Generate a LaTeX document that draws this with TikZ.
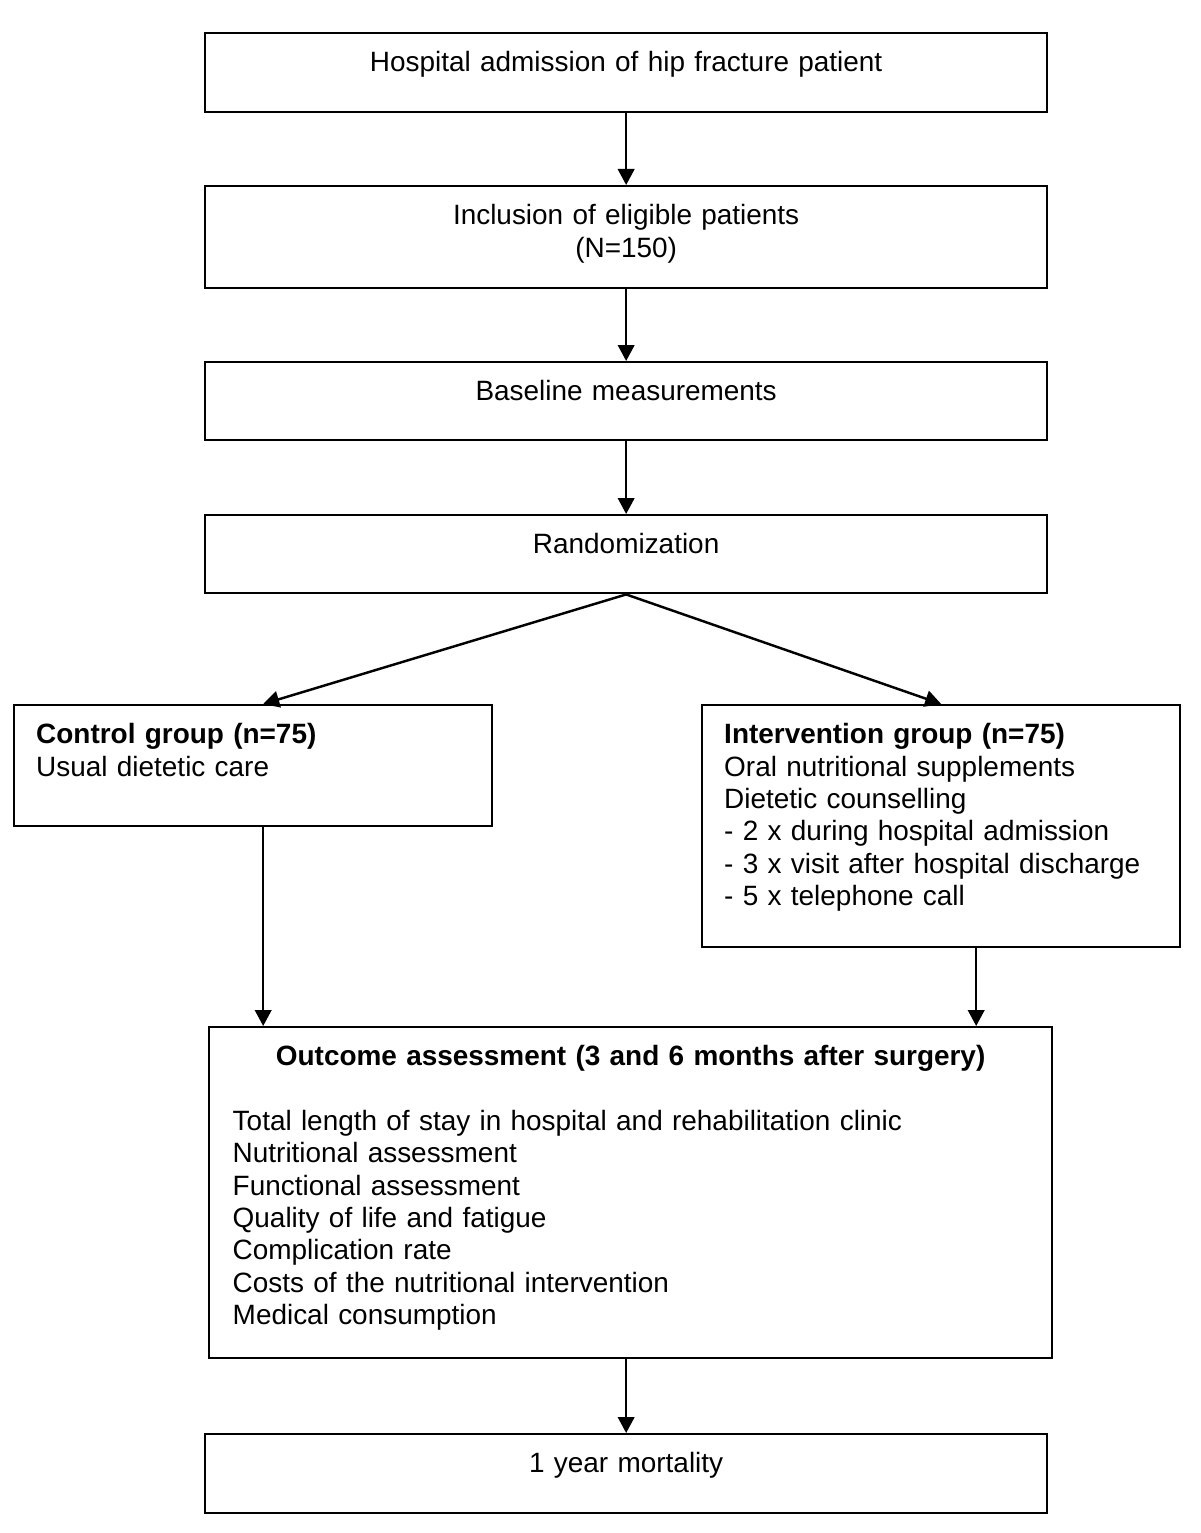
\documentclass[tikz,border=0pt]{standalone}
\usepackage{fontspec}
\setmainfont{Liberation Sans}
\usetikzlibrary{arrows.meta,calc}

\tikzset{
  box/.style={draw, line width=1.4pt, anchor=north west, inner xsep=0pt, inner ysep=0pt,
    text height=0.77cm, align=center},
  leftbox/.style={box, inner xsep=0.44cm, align=left},
  arr/.style={line width=1.4pt, -{Triangle[length=0.32cm,width=0.33cm]}}
}

\begin{document}
\begin{tikzpicture}[x=0.02cm, y=-0.02cm, font=\fontsize{15.9pt}{18.4pt}\selectfont]
      \useasboundingbox (0,0) rectangle (1200,1533);
      % main column
      \node[box, text width=16.84cm, text depth=0.81cm] (adm) at (204,32) {Hospital admission of hip fracture patient};
      \node[box, text width=16.84cm, text depth=1.27cm] (incl) at (204,185) {Inclusion of eligible patients\\(N=150)};
      \node[box, text width=16.84cm, text depth=0.79cm] (base) at (204,361) {Baseline measurements};
      \node[box, text width=16.84cm, text depth=0.79cm] (rand) at (204,514) {Randomization};
      % the two groups
      \node[leftbox, text width=8.68cm, text depth=1.65cm] (ctrl) at (13,704) {\textbf{Control group (n=75)}\\Usual dietetic care};
      \node[leftbox, text width=8.68cm, text depth=4.07cm] (intv) at (701,704) {\textbf{Intervention group (n=75)}\\Oral nutritional supplements\\Dietetic counselling\\- 2 x during hospital admission\\- 3 x visit after hospital discharge\\- 5 x telephone call};
      % outcomes
      \node[leftbox, inner xsep=0.47cm, text width=15.92cm, text depth=5.85cm] (outc) at (208,1026) {\makebox[\linewidth]{\bfseries Outcome assessment (3 and 6 months after surgery)}\\[18.4pt]Total length of stay in hospital and rehabilitation clinic\\Nutritional assessment\\Functional assessment\\Quality of life and fatigue\\Complication rate\\Costs of the nutritional intervention\\Medical consumption};
      \node[box, text width=16.84cm, text depth=0.81cm] (mort) at (204,1433) {1 year mortality};
      % arrows
      \coordinate (ctrlin) at ($(ctrl.north)+(10,0)$);
      \coordinate (ctrlout) at ($(ctrl.south)+(10,0)$);
      \coordinate (intvout) at ($(intv.south)+(35,0)$);
      \draw[arr] (adm) -- (incl);
      \draw[arr] (incl) -- (base);
      \draw[arr] (base) -- (rand);
      \draw[arr] (rand.south) -- (ctrlin);
      \draw[arr] (rand.south) -- (intv.north);
      \draw[arr] (ctrlout) -- (ctrlout |- outc.north);
      \draw[arr] (intvout) -- (intvout |- outc.north);
      \draw[arr] (mort.north |- outc.south) -- (mort.north);
\end{tikzpicture}
\end{document}
